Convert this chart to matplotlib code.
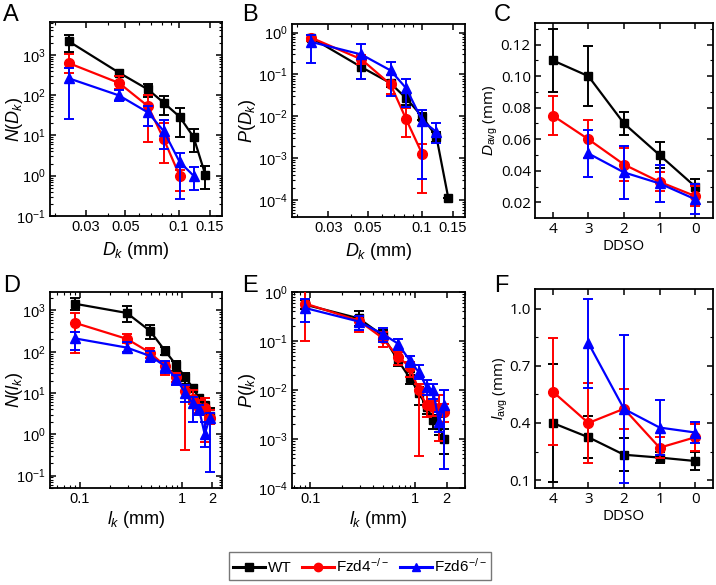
import matplotlib
matplotlib.use("Agg")
import matplotlib.pyplot as plt
from matplotlib.lines import Line2D
from matplotlib.ticker import NullFormatter, AutoMinorLocator
import numpy as np

plt.rcParams['font.family'] = ['Liberation Sans', 'DejaVu Sans']
plt.rcParams['mathtext.fontset'] = 'custom'
plt.rcParams['mathtext.rm'] = 'Liberation Sans'
plt.rcParams['mathtext.it'] = 'Liberation Sans:italic'
plt.rcParams['axes.linewidth'] = 1.3

# groups
names = ['WT', 'Fzd4$^{-/-}$', 'Fzd6$^{-/-}$']
colors = ['black', '#ff0000', '#0000ff']
markers = ['s', 'o', '^']

# A / B : vessel diameter bins (mm)
dk = [0.024, 0.046, 0.067, 0.082, 0.101, 0.121, 0.141]

n_dk_wt = [2150, 360, 138, 65, 29, 9.1, 1.05]
n_dk_wt_hi = [3100, 430, 185, 95, 48, 14, 1.7]
n_dk_wt_lo = [1200, 290, 92, 32, 9, 3.9, 0.46]
n_dk_fzd4 = [620, 200, 53, 8.3, 1.0]
n_dk_fzd4_hi = [1050, 300, 100, 20, 1.4]
n_dk_fzd4_lo = [360, 140, 6.7, 2.1, 0.42]
n_dk_fzd6 = [260, 98, 37, 13, 2.2, 1.0]
n_dk_fzd6_hi = [480, 130, 55, 24, 3.7, 1.6]
n_dk_fzd6_lo = [25, 72, 17, 4.5, 0.27, 0.45]

p_dk_wt = [0.76, 0.15, 0.062, 0.027, 0.0098, 0.0033, 1.15e-4]
p_dk_wt_hi = [0.88, 0.22, 0.075, 0.036, 0.012, 0.0043, 1.15e-4]
p_dk_wt_lo = [0.63, 0.08, 0.05, 0.019, 0.008, 0.0025, 1.15e-4]
p_dk_fzd4 = [0.76, 0.23, 0.058, 0.0085, 0.00125]
p_dk_fzd4_hi = [0.88, 0.29, 0.095, 0.0155, 0.0022]
p_dk_fzd4_lo = [0.62, 0.18, 0.035, 0.0033, 1.5e-4]
p_dk_fzd6 = [0.6, 0.30, 0.125, 0.047, 0.0078, 0.0043]
p_dk_fzd6_hi = [0.88, 0.53, 0.2, 0.08, 0.014, 0.0068]
p_dk_fzd6_lo = [0.19, 0.08, 0.03, 0.017, 3.3e-4, 0.0023]

# C / F : days of DDSO
ddso = [4, 3, 2, 1, 0]
ddso_fzd6 = [3, 2, 1, 0]

d_avg_wt = [0.110, 0.100, 0.070, 0.050, 0.030]
d_avg_wt_err = [0.020, 0.019, 0.007, 0.008, 0.005]
d_avg_fzd4 = [0.075, 0.060, 0.044, 0.033, 0.024]
d_avg_fzd4_err = [0.0125, 0.012, 0.0105, 0.006, 0.0065]
d_avg_fzd6 = [0.051, 0.039, 0.032, 0.022]
d_avg_fzd6_err = [0.015, 0.017, 0.012, 0.0095]

l_avg_wt = [0.40, 0.325, 0.233, 0.218, 0.20]
l_avg_wt_err = [0.31, 0.11, 0.088, 0.027, 0.047]
l_avg_fzd4 = [0.565, 0.40, 0.475, 0.27, 0.325]
l_avg_fzd4_err = [0.28, 0.21, 0.105, 0.055, 0.07]
l_avg_fzd6 = [0.82, 0.474, 0.376, 0.35]
l_avg_fzd6_err = [0.235, 0.39, 0.145, 0.055]

# D / E : vessel length bins (mm)
lk = [0.09, 0.29, 0.49, 0.69, 0.89, 1.09, 1.29, 1.49, 1.69, 1.89]

n_lk_wt = [1450, 870, 320, 105, 47, 24, 13.4, 7.5, 5.0, 2.8]
n_lk_wt_hi = [2000, 1300, 440, 127, 60, 31, 16, 8.7, 7.5, 4.3]
n_lk_wt_lo = [1000, 520, 200, 82, 35, 17, 11, 5.6, 3.0, 1.9]
n_lk_fzd4 = [500, 205, 95, 45, 25, 11, 7.1, 4.3, 4.3, 2.5]
n_lk_fzd4_hi = [880, 270, 120, 57, 31, 14.5, 12, 6.7, 7.5, 3.8]
n_lk_fzd4_lo = [95, 160, 72, 28, 19, 0.41, 5.3, 3.3, 0.64, 1.8]
n_lk_fzd6 = [210, 126, 79, 45, 22, 10, 5.6, 4.0, 1.0, 2.5]
n_lk_fzd6_hi = [306, 168, 105, 60, 27, 16, 8.2, 5.0, 2.0, 3.2]
n_lk_fzd6_lo = [111, 96, 56, 31, 16, 6.2, 2.0, 3.0, 0.48, 0.12]

p_lk_wt = [0.55, 0.29, 0.13, 0.040, 0.0176, 0.0088, 0.0045, 0.0025, 0.0019, 0.001]
p_lk_wt_hi = [0.68, 0.40, 0.165, 0.051, 0.023, 0.0115, 0.0057, 0.0031, 0.0028, 0.0016]
p_lk_wt_lo = [0.44, 0.2, 0.1, 0.031, 0.0134, 0.0049, 0.0033, 0.0016, 0.0012, 0.0005]
p_lk_fzd4 = [0.58, 0.26, 0.115, 0.047, 0.03, 0.0098, 0.0049, 0.0045, 0.0042, 0.0036]
p_lk_fzd4_hi = [1.1, 0.33, 0.15, 0.06, 0.037, 0.013, 0.0078, 0.006, 0.0078, 0.0053]
p_lk_fzd4_lo = [0.1, 0.15, 0.075, 0.032, 0.018, 4.6e-4, 0.0028, 0.003, 0.0009, 0.0022]
p_lk_fzd6 = [0.47, 0.25, 0.14, 0.088, 0.04, 0.023, 0.0115, 0.0098, 0.0022, 0.0049]
p_lk_fzd6_hi = [0.73, 0.33, 0.18, 0.11, 0.05, 0.032, 0.016, 0.013, 0.0036, 0.01]
p_lk_fzd6_lo = [0.24, 0.165, 0.095, 0.065, 0.03, 0.017, 0.0078, 0.0067, 0.0014, 2.5e-4]

CAL = ['Open Sans', 'DejaVu Sans']


def draw(ax, x, y, lo=None, hi=None, err=None, i=0):
    n = len(y)
    x = x[:n]
    if err is None:
        yerr = [np.array(y) - np.array(lo), np.array(hi) - np.array(y)]
    else:
        yerr = err
    ax.errorbar(x, y, yerr=yerr, color=colors[i], marker=markers[i],
                ms=6 if i == 0 else 7, lw=1.6, elinewidth=1.4, capsize=3.5,
                capthick=1.4, zorder=3 + i)


def style(ax, size=10.5):
    ax.tick_params(which='both', direction='in', top=True, right=True, labelsize=size, pad=3)
    ax.tick_params(which='major', length=4, width=1.1)
    ax.tick_params(which='minor', length=2, width=0.8)


fig = plt.figure(figsize=(7.16, 5.85), dpi=100)
W, H = 716.0, 585.0


def add_ax(l, r, t, b):
    return fig.add_axes([l / W, 1 - b / H, (r - l) / W, (b - t) / H])


def ylab(ax, text, xpix, left, right, **kw):
    ax.set_ylabel(text, va='center', **kw)
    ax.yaxis.set_label_coords((xpix - left) / (right - left), 0.5)


axA = add_ax(50, 222, 22, 216)
axB = add_ax(292, 465, 24, 217)
axC = add_ax(535, 713, 23, 218)
axD = add_ax(50, 222, 292, 488)
axE = add_ax(292, 465, 292, 488)
axF = add_ax(535, 713, 289, 488)

# A
draw(axA, dk, n_dk_wt, n_dk_wt_lo, n_dk_wt_hi, i=0)
draw(axA, dk, n_dk_fzd4, n_dk_fzd4_lo, n_dk_fzd4_hi, i=1)
draw(axA, dk, n_dk_fzd6, n_dk_fzd6_lo, n_dk_fzd6_hi, i=2)
axA.set_yscale('log')
axA.set_ylim(0.1, 6500)
axA.set_yticks([1e-1, 1, 10, 100, 1000])
ylab(axA, '$N(D_k)$', 14, 50, 222, fontsize=13)

# B
draw(axB, dk, p_dk_wt, p_dk_wt_lo, p_dk_wt_hi, i=0)
draw(axB, dk, p_dk_fzd4, p_dk_fzd4_lo, p_dk_fzd4_hi, i=1)
draw(axB, dk, p_dk_fzd6, p_dk_fzd6_lo, p_dk_fzd6_hi, i=2)
axB.set_yscale('log')
axB.set_ylim(4e-5, 1.6)
axB.set_yticks([1e-4, 1e-3, 1e-2, 1e-1, 1])
ylab(axB, '$P(D_k)$', 248, 292, 465, fontsize=13)

for ax in (axA, axB):
    ax.set_xscale('log')
    ax.set_xlim(0.0188, 0.175)
    ax.set_xticks([0.03, 0.05, 0.1, 0.15])
    ax.set_xticklabels(['0.03', '0.05', '0.1', '0.15'])
    ax.xaxis.set_minor_formatter(NullFormatter())
    ax.set_xlabel('$D_k$ (mm)', fontsize=13, labelpad=4)
    style(ax)

# D
draw(axD, lk, n_lk_wt, n_lk_wt_lo, n_lk_wt_hi, i=0)
draw(axD, lk, n_lk_fzd4, n_lk_fzd4_lo, n_lk_fzd4_hi, i=1)
draw(axD, lk, n_lk_fzd6, n_lk_fzd6_lo, n_lk_fzd6_hi, i=2)
axD.set_yscale('log')
axD.set_ylim(0.05, 2800)
axD.set_yticks([1e-1, 1, 10, 100, 1000])
ylab(axD, '$N(l_k)$', 14, 50, 222, fontsize=13)
axD.set_xlim(0.051, 2.5)

# E
draw(axE, lk, p_lk_wt, p_lk_wt_lo, p_lk_wt_hi, i=0)
draw(axE, lk, p_lk_fzd4, p_lk_fzd4_lo, p_lk_fzd4_hi, i=1)
draw(axE, lk, p_lk_fzd6, p_lk_fzd6_lo, p_lk_fzd6_hi, i=2)
axE.set_yscale('log')
axE.set_ylim(1e-4, 1)
axE.set_yticks([1e-4, 1e-3, 1e-2, 1e-1, 1])
ylab(axE, '$P(l_k)$', 248, 292, 465, fontsize=13)
axE.set_xlim(0.067, 3.0)

for ax in (axD, axE):
    ax.set_xscale('log')
    ax.set_xticks([0.1, 1, 2])
    ax.set_xticklabels(['0.1', '1', '2'])
    ax.xaxis.set_minor_formatter(NullFormatter())
    ax.set_xlabel('$l_k$ (mm)', fontsize=13, labelpad=2)
    style(ax)

# C
draw(axC, ddso, d_avg_wt, err=d_avg_wt_err, i=0)
draw(axC, ddso, d_avg_fzd4, err=d_avg_fzd4_err, i=1)
draw(axC, ddso_fzd6, d_avg_fzd6, err=d_avg_fzd6_err, i=2)
axC.set_ylim(0.0101, 0.1337)
axC.set_yticks([0.02, 0.04, 0.06, 0.08, 0.10, 0.12])
axC.set_yticklabels(['0.02', '0.04', '0.06', '0.08', '0.10', '0.12'])
ylab(axC, '$D_{\\mathrm{avg}}$ (mm)', 491, 535, 713, fontsize=11, family=CAL)

# F
draw(axF, ddso, l_avg_wt, err=l_avg_wt_err, i=0)
draw(axF, ddso, l_avg_fzd4, err=l_avg_fzd4_err, i=1)
draw(axF, ddso_fzd6, l_avg_fzd6, err=l_avg_fzd6_err, i=2)
axF.set_ylim(0.058, 1.105)
axF.set_yticks([0.1, 0.4, 0.7, 1.0])
ylab(axF, '$l_{\\mathrm{avg}}$ (mm)', 500, 535, 713, fontsize=11, family=CAL)

for ax in (axC, axF):
    ax.set_xlim(4.5, -0.5)
    ax.set_xticks(ddso)
    ax.yaxis.set_minor_locator(AutoMinorLocator(2))
    ax.set_xlabel('DDSO', fontsize=11, family=CAL, labelpad=1)
    style(ax, 11)
    for lab in ax.get_xticklabels() + ax.get_yticklabels():
        lab.set_family(CAL)

for lab, x, y in [('A', 3, 4), ('B', 242, 4), ('C', 494, 4),
                  ('D', 3, 275), ('E', 242, 275), ('F', 494, 275)]:
    fig.text(x / W, 1 - y / H, lab, fontsize=17, va='top', ha='left')

handles = [Line2D([0], [0], color=colors[i], marker=markers[i], lw=2.2, ms=6)
           for i in range(3)]
fig.legend(handles, names, loc='center', bbox_to_anchor=(360 / W, 1 - 566 / H),
           ncol=3, frameon=True, fancybox=False, edgecolor='#555555',
           fontsize=11, handlelength=2.1, handletextpad=0.15, columnspacing=0.7,
           borderpad=0.3)

fig.savefig('out.png', dpi=100)
